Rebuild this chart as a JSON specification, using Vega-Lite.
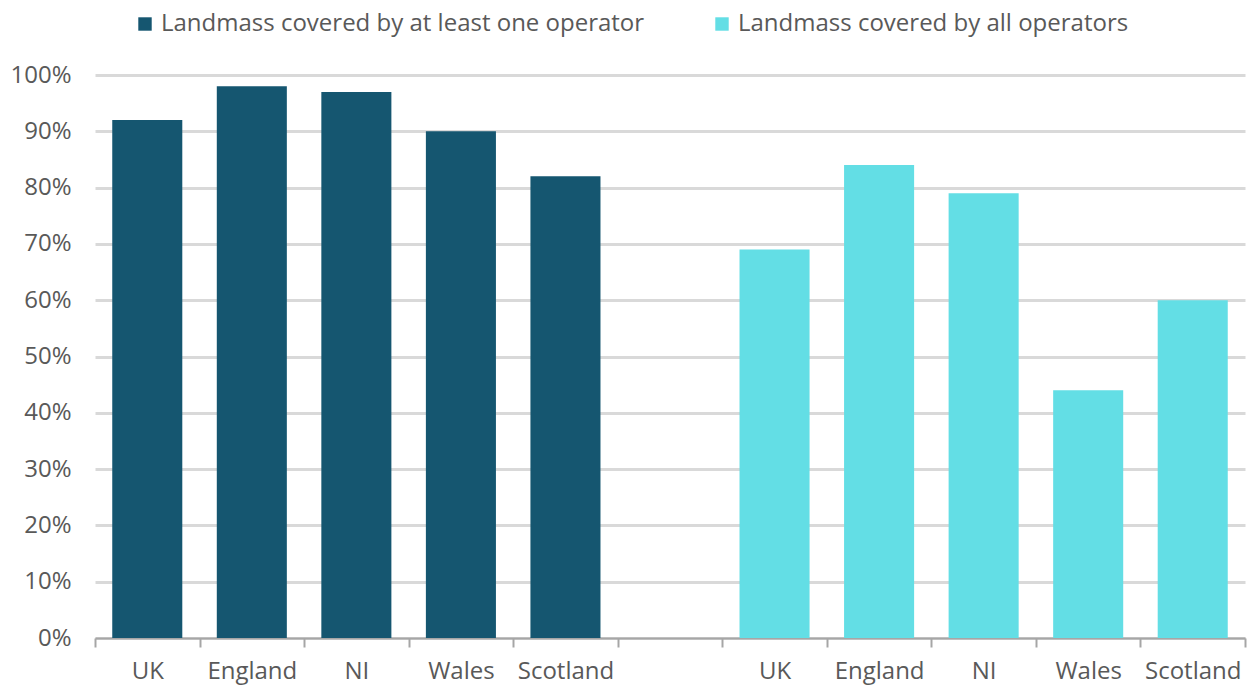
{
  "$schema": "https://vega.github.io/schema/vega-lite/v6.json",
  "width": 1150,
  "height": 563,
  "autosize": {"type": "none"},
  "padding": {"left": 95, "top": 75, "right": 5, "bottom": 47},
  "config": {"view": {"stroke": null}, "font": "Open Sans"},
  "data": {"values": [
    {"key": "UK|a", "nation": "UK", "group": "Landmass covered by at least one operator", "share": 0.92},
    {"key": "England|a", "nation": "England", "group": "Landmass covered by at least one operator", "share": 0.98},
    {"key": "NI|a", "nation": "NI", "group": "Landmass covered by at least one operator", "share": 0.97},
    {"key": "Wales|a", "nation": "Wales", "group": "Landmass covered by at least one operator", "share": 0.90},
    {"key": "Scotland|a", "nation": "Scotland", "group": "Landmass covered by at least one operator", "share": 0.82},
    {"key": "UK|b", "nation": "UK", "group": "Landmass covered by all operators", "share": 0.69},
    {"key": "England|b", "nation": "England", "group": "Landmass covered by all operators", "share": 0.84},
    {"key": "NI|b", "nation": "NI", "group": "Landmass covered by all operators", "share": 0.79},
    {"key": "Wales|b", "nation": "Wales", "group": "Landmass covered by all operators", "share": 0.44},
    {"key": "Scotland|b", "nation": "Scotland", "group": "Landmass covered by all operators", "share": 0.60}
  ]},
  "mark": {"type": "bar", "width": {"band": 0.67}},
  "encoding": {
    "x": {
      "field": "key", "type": "nominal",
      "scale": {
        "domain": ["UK|a", "England|a", "NI|a", "Wales|a", "Scotland|a", "|gap", "UK|b", "England|b", "NI|b", "Wales|b", "Scotland|b"],
        "paddingInner": 0, "paddingOuter": 0
      },
      "axis": {
        "title": null,
        "labelExpr": "datum.value ? split(datum.value, '|')[0] : ''",
        "labelAngle": 0,
        "labelFontSize": 24,
        "labelColor": "#595959",
        "labelPadding": 12,
        "tickBand": "extent",
        "ticks": true,
        "tickSize": 9,
        "tickColor": "#a6a6a6",
        "tickWidth": 2,
        "domainColor": "#a6a6a6",
        "domainWidth": 2,
        "grid": false
      }
    },
    "y": {
      "field": "share", "type": "quantitative",
      "scale": {"domain": [0, 1], "nice": false},
      "axis": {
        "title": null,
        "format": ".0%",
        "values": [0, 0.1, 0.2, 0.3, 0.4, 0.5, 0.6, 0.7, 0.8, 0.9, 1],
        "labelFontSize": 24,
        "labelColor": "#595959",
        "labelPadding": 24,
        "ticks": false,
        "domain": false,
        "grid": true,
        "gridColor": "#d9d9d9",
        "gridWidth": 3
      }
    },
    "color": {
      "field": "group", "type": "nominal",
      "scale": {
        "domain": ["Landmass covered by at least one operator", "Landmass covered by all operators"],
        "range": ["#155670", "#63dee5"]
      },
      "legend": {
        "title": null,
        "orient": "none",
        "direction": "horizontal",
        "legendX": 38,
        "legendY": -63,
        "symbolType": "square",
        "symbolSize": 180,
        "symbolStrokeWidth": 0,
        "labelFontSize": 24,
        "labelColor": "#595959",
        "labelOffset": 4,
        "columnPadding": 65,
        "labelLimit": 600
      }
    }
  }
}
